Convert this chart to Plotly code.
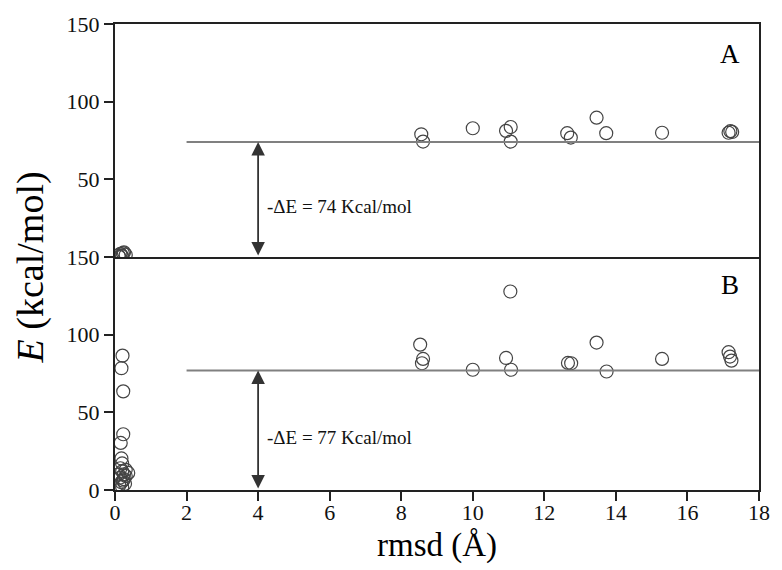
import plotly.graph_objects as go

# ---- data ----
# Panel A (top)
a_rmsd = [0.10, 0.15, 0.20, 0.25, 0.30, 0.12, 0.18, 0.22,
          8.56, 8.61, 10.0, 10.93, 11.06, 11.06, 12.64, 12.74, 13.46, 13.73, 15.29, 17.15, 17.20, 17.25]
a_energy = [1.0, 2.0, 0.5, 3.0, 1.5, 0.0, 1.0, 2.5,
            79.0, 74.3, 82.9, 81.2, 83.7, 74.3, 79.7, 76.9, 89.7, 79.7, 80.0, 80.0, 81.0, 80.5]
# Panel B (bottom)
b_rmsd = [0.21, 0.18, 0.23, 0.23, 0.16, 0.18, 0.20,
          0.15, 0.20, 0.25, 0.37, 0.30, 0.15, 0.22, 0.18, 0.28, 0.12, 0.20, 0.25, 0.10, 0.30,
          11.05, 8.53, 8.61, 8.58, 10.0, 10.93, 11.07, 12.66, 12.75, 13.46, 13.74, 15.29, 17.15, 17.19, 17.23]
b_energy = [86.5, 78.4, 63.5, 35.9, 30.3, 20.3, 17.1,
            14.0, 12.0, 10.0, 11.0, 9.0, 8.0, 6.0, 5.0, 4.0, 3.0, 2.0, 7.0, 10.0, 13.0,
            127.8, 93.6, 84.4, 81.6, 77.4, 85.0, 77.4, 81.8, 81.6, 94.9, 76.3, 84.4, 88.7, 85.9, 83.3]

dE_a = 74
dE_b = 77
line_start = 2
line_end = 18
arrow_x = 4

x_ticks = [0, 2, 4, 6, 8, 10, 12, 14, 16, 18]
ya_ticks = [50, 100, 150]
yb_ticks = [0, 50, 100, 150]

FONT = "Liberation Serif"
marker = dict(symbol="circle-open", size=13, color="#444444", line=dict(width=1.2))

fig = go.Figure()
fig.add_trace(go.Scatter(x=a_rmsd, y=a_energy, mode="markers", marker=marker,
                         xaxis="x2", yaxis="y2", showlegend=False))
fig.add_trace(go.Scatter(x=b_rmsd, y=b_energy, mode="markers", marker=marker,
                         xaxis="x", yaxis="y", showlegend=False))

axis_common = dict(showline=True, linecolor="#222222", linewidth=2,
                   showgrid=False, zeroline=False,
                   tickfont=dict(family=FONT, size=22, color="#111111"))
tick_common = dict(ticks="outside", ticklen=9, tickwidth=2, tickcolor="#222222")

fig.update_layout(
    width=782, height=570,
    margin=dict(l=115, r=12, t=22, b=80),
    plot_bgcolor="white", paper_bgcolor="white",
    font=dict(family=FONT, color="black"),
    xaxis=dict(domain=[0, 1], range=[0, 18], anchor="y", tickvals=x_ticks, mirror=False,
               ticklabelstandoff=-7, **tick_common, **axis_common),
    yaxis=dict(domain=[0, 0.5], range=[0, 150], anchor="x", tickvals=yb_ticks, mirror=True,
               **tick_common, **axis_common),
    xaxis2=dict(domain=[0, 1], range=[0, 18], anchor="y2", showticklabels=False, mirror=True,
                ticks="", **axis_common),
    yaxis2=dict(domain=[0.5, 1], range=[0, 150], anchor="x2", tickvals=ya_ticks, mirror=True,
                **tick_common, **axis_common),
)

# reference lines
fig.add_shape(type="line", xref="x2", yref="y2", x0=line_start, x1=line_end, y0=dE_a, y1=dE_a,
              line=dict(color="#808080", width=2))
fig.add_shape(type="line", xref="x", yref="y", x0=line_start, x1=line_end, y0=dE_b, y1=dE_b,
              line=dict(color="#808080", width=2))

# double arrows
for xr, yr, val in [("x2", "y2", dE_a), ("x", "y", dE_b)]:
    fig.add_annotation(x=arrow_x, y=val, ax=arrow_x, ay=0, xref=xr, yref=yr, axref=xr, ayref=yr,
                       showarrow=True, arrowhead=2, startarrowhead=2, arrowside="end+start",
                       arrowsize=1.5, startarrowsize=1.5, arrowwidth=1.8, arrowcolor="#333333",
                       text="", standoff=0, startstandoff=0)
    fig.add_annotation(x=arrow_x + 0.2, y=val * 0.44, xref=xr, yref=yr, xanchor="left",
                       yanchor="middle", showarrow=False, text=f"-ΔE = {val} Kcal/mol",
                       font=dict(family=FONT, size=19, color="#111111"))

fig.add_annotation(x=17.2, y=131, xref="x2", yref="y2", text="A", showarrow=False,
                   font=dict(family=FONT, size=27, color="black"))
fig.add_annotation(x=17.2, y=132, xref="x", yref="y", text="B", showarrow=False,
                   font=dict(family=FONT, size=27, color="black"))

# axis titles
fig.add_annotation(x=(30 - 115) / 655, y=(490 - 266) / 468, xref="paper", yref="paper",
                   xanchor="center", yanchor="middle", textangle=-90,
                   text="<i>E</i> (kcal/mol)", showarrow=False,
                   font=dict(family=FONT, size=38, color="black"))
fig.add_annotation(x=(442 - 115) / 655, y=(490 - 546) / 468, xref="paper", yref="paper",
                   xanchor="center", yanchor="middle",
                   text="rmsd (Å)", showarrow=False,
                   font=dict(family=FONT, size=33, color="black"))

fig.write_html("out.html")
